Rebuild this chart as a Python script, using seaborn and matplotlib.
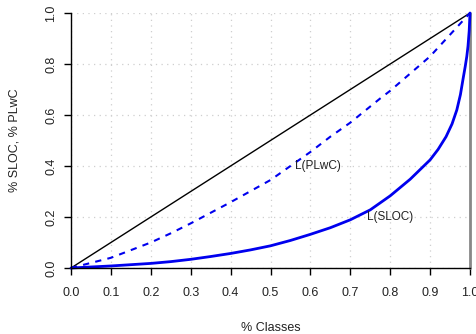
import matplotlib
matplotlib.use("Agg")
import matplotlib.pyplot as plt
import seaborn as sns
import pandas as pd
import numpy as np

# data
classes_x = [0.0, 0.1, 0.2, 0.25, 0.3, 0.35, 0.4, 0.45, 0.5, 0.55, 0.6, 0.65, 0.7, 0.75, 0.8, 0.85, 0.9, 0.92,
             0.94, 0.955, 0.967, 0.976, 0.983, 0.988, 0.992, 0.995, 0.998, 1.0]
sloc_y    = [0.0, 0.008, 0.018, 0.025, 0.034, 0.045, 0.057, 0.071, 0.087, 0.108, 0.132, 0.158, 0.189, 0.228, 0.283, 0.348, 0.424, 0.465,
             0.515, 0.565, 0.62, 0.68, 0.745, 0.79, 0.83, 0.87, 0.93, 1.0]
plwc_x = [0.0, 0.1, 0.2, 0.25, 0.3, 0.4, 0.5, 0.6, 0.65, 0.7, 0.775, 0.8, 0.9, 1.0]
plwc_y = [0.0, 0.04, 0.10, 0.136, 0.175, 0.258, 0.345, 0.455, 0.515, 0.57, 0.665, 0.695, 0.83, 1.0]
equal_x = [0.0, 1.0]
equal_y = [0.0, 1.0]
edge_x = [1.0, 1.0]
edge_y = [0.0, 1.0]
x_ticks = [0.0, 0.1, 0.2, 0.3, 0.4, 0.5, 0.6, 0.7, 0.8, 0.9, 1.0]
y_ticks = [0.0, 0.2, 0.4, 0.6, 0.8, 1.0]
labels = [("L(PLwC)", 0.62, 0.40), ("L(SLOC)", 0.80, 0.20)]

sns.set_theme(style="white")
plt.rcParams['font.family'] = ['Liberation Sans', 'DejaVu Sans']

fig = plt.figure(figsize=(4.76, 3.34), dpi=100)
ax = fig.add_axes([71/476, 1 - 268/334, (470-71)/476, (268-13)/334])

# grid
for gx in x_ticks:
    ax.axvline(gx, color="#cfcfcf", lw=0.9, ls=(0, (1, 3.5)), zorder=0)
for gy in y_ticks:
    ax.axhline(gy, color="#cfcfcf", lw=0.9, ls=(0, (1, 3.5)), zorder=0)

kw = dict(ax=ax, estimator=None, sort=False, clip_on=False)
sns.lineplot(x=equal_x, y=equal_y, color="black", lw=1.0, **kw)
sns.lineplot(x=edge_x, y=edge_y, color="#888888", lw=2.0, **kw)
sns.lineplot(x=plwc_x, y=plwc_y, color="#0000ee", lw=1.5, **kw)
ax.lines[-1].set_linestyle((0, (3, 3)))
sns.lineplot(x=classes_x, y=sloc_y, color="#0000ee", lw=2.0, **kw)

for t, tx, ty in labels:
    ax.text(tx, ty, t, ha="center", va="center", fontsize=8.5, color="#222222")

ax.set_xlim(0, 1)
ax.set_ylim(0, 1)
ax.set_xticks(x_ticks)
ax.set_yticks(y_ticks)
ax.set_xticklabels([f"{v:.1f}" for v in x_ticks], fontsize=9)
ax.set_yticklabels([f"{v:.1f}" for v in y_ticks], fontsize=9, rotation=90, va="center")
ax.tick_params(axis="both", direction="out", length=5, width=1, color="black",
               bottom=True, left=True, pad=5, labelcolor="#222222")
ax.tick_params(axis="x", pad=9)
for s in ["top", "right"]:
    ax.spines[s].set_visible(False)
for s in ["left", "bottom"]:
    ax.spines[s].set_color("black")
    ax.spines[s].set_linewidth(1.0)
ax.set_xlabel("% Classes", fontsize=9, labelpad=16, color="#222222")
ax.set_ylabel("% SLOC, % PLwC", fontsize=9, labelpad=18, color="#222222")
ax.patch.set_alpha(0)

fig.savefig("out.png", dpi=100)
